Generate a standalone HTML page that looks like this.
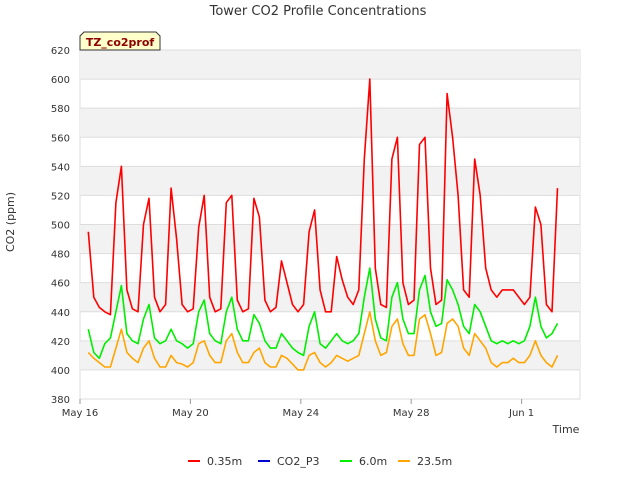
<!DOCTYPE html>
<html><head><meta charset="utf-8"><style>
body{margin:0;background:#fff;font-family:"Liberation Sans","DejaVu Sans",sans-serif;}
svg text{font-family:"DejaVu Sans","Liberation Sans",sans-serif;}
</style></head><body>
<svg id="chart" width="640" height="480" xmlns="http://www.w3.org/2000/svg">
<rect width="640" height="480" fill="#fff"/>
<text x="318" y="15" text-anchor="middle" font-size="13" fill="#333">Tower CO2 Profile Concentrations</text>
<g id="grid"></g>
<g id="axes"></g>
<g id="series"></g>
<text x="14" y="222" font-size="11" fill="#333" text-anchor="middle" transform="rotate(-90 14 222)">CO2 (ppm)</text>
<text x="566" y="433" font-size="11" fill="#333" text-anchor="middle">Time</text>
<g>
<path d="M80,50 L80,36 L84,32 L156,32 L160,36 L160,50 Z" fill="#ffffcc" stroke="#333"/>
<text x="120" y="46" font-size="11" font-weight="bold" fill="#8b0000" text-anchor="middle">TZ_co2prof</text>
</g>
<g id="legend"></g>
</svg>
<script>
const yTicks=[380,400,420,440,460,480,500,520,540,560,580,600,620];
const xTickDays=[0,4,8,12,16];
const xTickLabels=["May 16","May 20","May 24","May 28","Jun 1"];
const tStart=0.3, tStep=0.2;
const red=[495,450,443,440,438, 515,540,455,442,440, 500,518,450,440,445, 525,490,445,440,442, 498,520,450,440,442, 515,520,448,440,442, 518,505,448,440,443, 475,460,445,440,445, 495,510,455,440,440, 478,462,450,445,455, 545,600,470,445,443, 545,560,460,445,448, 555,560,470,445,448, 590,560,520,455,450, 545,520,470,455,450, 455,455,455,450,445, 450,512,500,445,440,525];
const green=[428,412,408,418,422, 440,458,425,420,418, 435,445,422,418,420, 428,420,418,415,418, 440,448,425,420,418, 440,450,428,420,420, 438,432,420,415,415, 425,420,415,412,410, 430,440,418,415,420, 425,420,418,420,425, 450,470,435,422,420, 450,460,435,425,425, 455,465,440,430,432, 462,455,445,430,425, 445,440,430,420,418, 420,418,420,418,420, 430,450,430,422,425,432];
const orange=[412,408,405,402,402, 415,428,412,408,405, 415,420,408,402,402, 410,405,404,402,405, 418,420,410,405,405, 420,425,412,405,405, 412,415,405,402,402, 410,408,404,400,400, 410,412,405,402,405, 410,408,406,408,410, 425,440,420,410,412, 430,435,418,410,410, 435,438,425,410,412, 432,435,430,415,410, 425,420,415,405,402, 405,405,408,405,405, 410,420,410,405,402,410];
const seriesNames=["0.35m","CO2_P3","6.0m","23.5m"];
const seriesColors=["#ff0000","#0000cc","#00ee00","#ffa500"];
const X0=80,X1=580,Y0=50,Y1=399;
const dayPx=27.6;
function xs(d){return X0+d*dayPx;}
function ys(v){return Y1-(v-380)*(Y1-Y0)/240;}
const NS="http://www.w3.org/2000/svg";
function mk(tag,attrs,parent){const e=document.createElementNS(NS,tag);for(const k in attrs)e.setAttribute(k,attrs[k]);parent.appendChild(e);return e;}
const grid=document.getElementById('grid'),axes=document.getElementById('axes'),ser=document.getElementById('series'),leg=document.getElementById('legend');
const bg=mk('rect',{x:X0,y:Y0,width:X1-X0,height:Y1-Y0,fill:'#fff',stroke:'#ddd'},grid);


for(let i=0;i<yTicks.length-1;i++){
  if(i%2===1){const b=mk('rect',{x:X0,y:ys(yTicks[i+1]),width:X1-X0,height:ys(yTicks[i])-ys(yTicks[i+1]),fill:'#f2f2f2'},grid);
  
  }
}
yTicks.forEach(v=>{
  const l=mk('line',{x1:X0,x2:X1,y1:ys(v),y2:ys(v),stroke:'#dddddd'},grid);
  
  
  const t=mk('text',{x:X0-10,y:ys(v)+4,'font-size':10,'text-anchor':'end',fill:'#333'},axes);
  t.textContent=v;
  
  
});
xTickDays.forEach((d,i)=>{
  const l=mk('line',{x1:xs(d),x2:xs(d),y1:Y1,y2:Y1+5,stroke:'#999'},axes);
  
  
  const t=mk('text',{x:xs(d),y:Y1+17,'font-size':10,'text-anchor':'middle',fill:'#333'},axes);
  t.textContent=xTickLabels[i];
  
  
});
function drawLine(arr,color,name){
  const pts=arr.map((v,i)=>xs(tStart+i*tStep).toFixed(1)+','+ys(v).toFixed(1)).join(' ');
  const p=mk('polyline',{points:pts,fill:'none',stroke:color,'stroke-width':1.6,'stroke-linejoin':'round'},ser);
  
  
}
drawLine(orange,seriesColors[3],'series-23-5m');
drawLine(green,seriesColors[2],'series-6-0m');
drawLine(red,seriesColors[0],'series-0-35m');
const legX=[188,258,340,398];
seriesNames.forEach((n,i)=>{
  const g=mk('g',{},leg);
  
  
  mk('line',{x1:legX[i],x2:legX[i]+12,y1:461,y2:461,stroke:seriesColors[i],'stroke-width':2},g);
  const t=mk('text',{x:legX[i]+19,y:465,'font-size':11,fill:'#333'},g);
  t.textContent=n;
});
</script>
</body></html>
